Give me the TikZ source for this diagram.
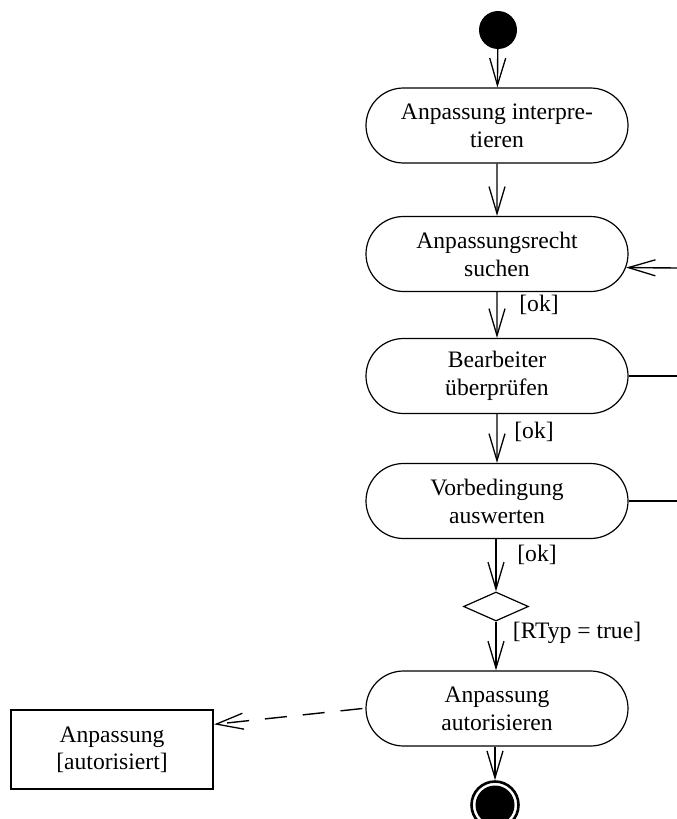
\documentclass[tikz,border=0pt]{standalone}
\usepackage{fontspec}
\setmainfont{Liberation Serif}
\usetikzlibrary{arrows.meta,shapes.misc,shapes.geometric,calc}

\begin{document}
\begin{tikzpicture}[x=1pt,y=-1pt,
  every node/.style={font=\fontsize{23.6}{28}\selectfont},
  activity/.style={rounded rectangle, draw, line width=1.2pt, minimum width=262pt,
    minimum height=75pt, inner sep=0pt, align=center},
  objbox/.style={rectangle, draw, line width=2.2pt, minimum width=202pt,
    minimum height=79pt, inner sep=0pt, align=center},
  decision/.style={diamond, draw, line width=1.2pt, minimum width=65pt,
    minimum height=29pt, inner sep=0pt},
  flow/.style={line width=1.4pt, line join=round,
    -{Straight Barb[length=27pt,width=16pt,line width=1.3pt]}},
  depend/.style={flow, dash pattern=on 22pt off 16pt},
  guard/.style={inner sep=0pt, anchor=center}]
  \useasboundingbox (0,0) rectangle (677,819);

  % initial and final states
  \node[circle, fill, minimum size=38pt, inner sep=0pt] (start) at (498,30) {};
  \node[circle, draw, line width=2.6pt, minimum size=47pt, inner sep=0pt] (stop) at (495,805) {};
  \fill (stop.center) circle (19.5pt);

  % activities
  \node[activity] (n1) at (497,125.5) {Anpassung interpre-\\tieren};
  \node[activity] (n2) at (497,254) {Anpassungsrecht\\suchen};
  \node[activity] (n3) at (497,376) {Bearbeiter\\überprüfen};
  \node[activity] (n4) at (497,501) {Vorbedingung\\auswerten};
  \node[decision] (dec) at (496,606.5) {};
  \node[activity] (n5) at (497,708.5) {Anpassung\\autorisieren};

  % object flow target
  \node[objbox] (obj) at (112,749.5) {Anpassung\\[-1pt][autorisiert]};
  \coordinate (objin) at ($(obj.north east)!0.19!(obj.south east)$);

  % loose ends on the right
  \coordinate (ret) at (677,268);
  \coordinate (r3) at (677,376);
  \coordinate (r4) at (677,501);

  % control flow
  \draw[flow] (start) -- (n1);
  \draw[flow] (n1) -- (n2);
  \draw[flow] (n2) -- (n3);
  \draw[flow] (n3) -- (n4);
  \draw[flow] (n4.south -| dec.north) -- (dec.north);
  \draw[flow] (dec.south) -- (dec.south |- n5.north);
  \draw[flow] (n5.south -| stop.north) -- (stop.north);
  \draw[flow] (ret) -- (n2.-6.3);
  \draw[line width=1.4pt] (n3.east) -- (r3);
  \draw[line width=1.4pt] (n4.east) -- (r4);

  % object flow
  \draw[depend] ([xshift=-3pt]n5.west) -- (objin);

  % guards
  \node[guard] (g1) at (539,305) {[ok]};
  \node[guard] (g2) at (534,432) {[ok]};
  \node[guard] (g3) at (537,555) {[ok]};
  \node[guard] (g4) at (577,633) {[RTyp = true]};
\end{tikzpicture}
\end{document}
